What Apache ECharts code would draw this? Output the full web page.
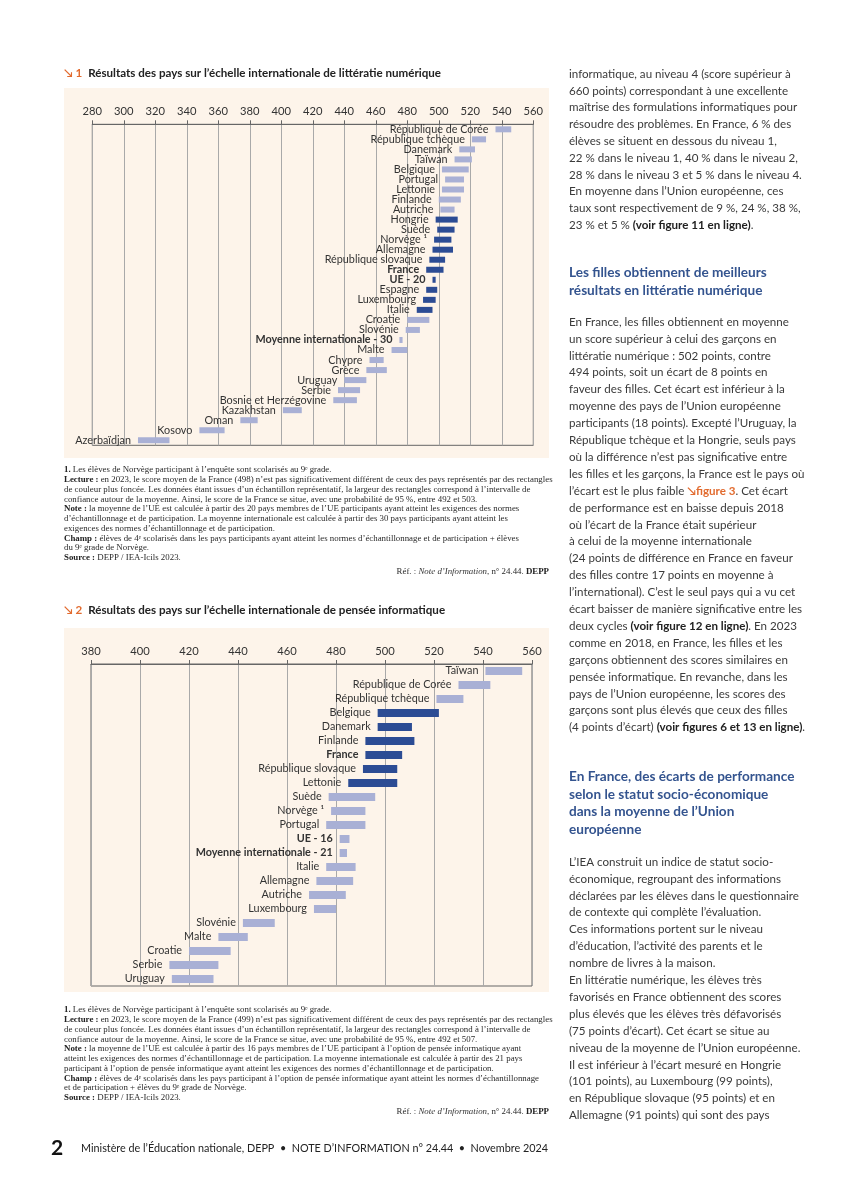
<!DOCTYPE html>
<html><head><meta charset="utf-8">
<script src="https://cdn.jsdelivr.net/npm/echarts@6/dist/echarts.min.js"></script>
<style>html,body{margin:0;padding:0;background:#fff}#c{width:867px;height:1200px}</style>
</head><body><div id="c"></div>
<script>
// ---------- Figure 1 : littératie numérique ----------
const litCountries = ['République de Corée','République tchèque','Danemark','Taïwan','Belgique','Portugal','Lettonie','Finlande','Autriche','Hongrie','Suède','Norvège ¹','Allemagne','République slovaque','France','UE - 20','Espagne','Luxembourg','Italie','Croatie','Slovénie','Moyenne internationale - 30','Malte','Chypre','Grèce','Uruguay','Serbie','Bosnie et Herzégovine','Kazakhstan','Oman','Kosovo','Azerbaïdjan'];
const litLow  = [536,521,513,510,502,504,502,500,501,498,499,497,496,494,492,496,492,490,486,480,479,475,470,456,454,440,436,433,401,374,348,309];
const litHigh = [546,530,523,521,519,516,516,514,510,512,510,508,509,504,503,498,499,498,496,494,488,477,480,465,467,454,450,448,413,385,364,329];
const litDark = [0,0,0,0,0,0,0,0,0,1,1,1,1,1,1,1,1,1,1,0,0,0,0,0,0,0,0,0,0,0,0,0];
const litBold = [0,0,0,0,0,0,0,0,0,0,0,0,0,0,1,1,0,0,0,0,0,1,0,0,0,0,0,0,0,0,0,0];
const litAxis = {min:280, max:560, interval:20};

// ---------- Figure 2 : pensée informatique ----------
const piCountries = ['Taïwan','République de Corée','République tchèque','Belgique','Danemark','Finlande','France','République slovaque','Lettonie','Suède','Norvège ¹','Portugal','UE - 16','Moyenne internationale - 21','Italie','Allemagne','Autriche','Luxembourg','Slovénie','Malte','Croatie','Serbie','Uruguay'];
const piLow  = [541,530,521,497,497,492,492,491,485,477,478,476,481.5,481.5,476,472,469,471,442,432,420,412,413];
const piHigh = [556,543,532,522,511,512,507,505,505,496,492,492,485.5,484.5,488,487,484,480,455,444,437,432,430];
const piDark = [0,0,0,1,1,1,1,1,1,0,0,0,0,0,0,0,0,0,0,0,0,0,0];
const piBold = [0,0,0,0,0,0,1,0,0,0,0,0,1,1,0,0,0,0,0,0,0,0,0];
const piAxis = {min:380, max:560, interval:20};

const SANS = 'Lato, "Noto Sans", sans-serif';
const SERIF = '"Liberation Serif", "DejaVu Serif", serif';
const LIGHT = '#a9b0d5', DARK = '#2c4c94', TXT = '#333333', ORANGE = '#e26b2f', BLUE = '#34548f';

function mkRender(names, barH, fs) {
  return function (params, api) {
    const i = params.dataIndex;
    const p0 = api.coord([api.value(1), i]);
    const p1 = api.coord([api.value(2), i]);
    const dark = api.value(3) === 1, bold = api.value(4) === 1;
    return {type:'group', children:[
      {type:'rect', shape:{x:p0[0], y:p0[1]-barH/2, width:p1[0]-p0[0], height:barH}, style:{fill: dark?DARK:LIGHT}},
      {type:'text', x:p0[0]-7, y:p0[1], style:{text:names[i], align:'right', verticalAlign:'middle',
        fontSize:fs, fontFamily:SANS, fontWeight: bold?'bold':'normal', fill:TXT}}
    ]};
  };
}
function xAx(idx, ax) {
  return {type:'value', gridIndex:idx, position:'top', min:ax.min, max:ax.max, interval:ax.interval,
    axisLine:{show:true, lineStyle:{color:'#666', width:1}},
    axisTick:{show:true, length:4, lineStyle:{color:'#666'}},
    axisLabel:{fontSize:11.2, color:TXT, fontFamily:SANS, margin:7},
    splitLine:{show:true, lineStyle:{color:'#a9a9a9', width:1}}};
}
function yAx(idx, cats) {
  return {type:'category', gridIndex:idx, data:cats, inverse:true, show:false};
}

// ---------- text helpers ----------
function T(x, y, text, opt) {
  opt = opt || {};
  const fs = opt.fontSize || 11.6, ff = opt.fontFamily || SANS;
  return {type:'text', x:x, y:y, z:10, style:Object.assign({text:text, fontSize:11.6, fontFamily:SANS, fill:'#3a3a3a',
    align:'left', verticalAlign:'middle', rich:{
      b:{fontWeight:'bold', fill:'#222', fontSize:fs, fontFamily:ff},
      o:{fontWeight:'bold', fill:ORANGE, fontSize:fs, fontFamily:ff},
      i:{fontStyle:'italic', fill:'#333', fontSize:fs, fontFamily:ff}
    }}, opt)};
}

const notes1 = [
  '{b|1.} Les élèves de Norvège participant à l’enquête sont scolarisés au 9ᵉ grade.',
  '{b|Lecture :} en 2023, le score moyen de la France (498) n’est pas significativement différent de ceux des pays représentés par des rectangles',
  'de couleur plus foncée. Les données étant issues d’un échantillon représentatif, la largeur des rectangles correspond à l’intervalle de',
  'confiance autour de la moyenne. Ainsi, le score de la France se situe, avec une probabilité de 95 %, entre 492 et 503.',
  '{b|Note :} la moyenne de l’UE est calculée à partir des 20 pays membres de l’UE participants ayant atteint les exigences des normes',
  'd’échantillonnage et de participation. La moyenne internationale est calculée à partir des 30 pays participants ayant atteint les',
  'exigences des normes d’échantillonnage et de participation.',
  '{b|Champ :} élèves de 4ᵉ scolarisés dans les pays participants ayant atteint les normes d’échantillonnage et de participation + élèves',
  'du 9ᵉ grade de Norvège.',
  '{b|Source :} DEPP / IEA-Icils 2023.'
];
const notes2 = [
  '{b|1.} Les élèves de Norvège participant à l’enquête sont scolarisés au 9ᵉ grade.',
  '{b|Lecture :} en 2023, le score moyen de la France (499) n’est pas significativement différent de ceux des pays représentés par des rectangles',
  'de couleur plus foncée. Les données étant issues d’un échantillon représentatif, la largeur des rectangles correspond à l’intervalle de',
  'confiance autour de la moyenne. Ainsi, le score de la France se situe, avec une probabilité de 95 %, entre 492 et 507.',
  '{b|Note :} la moyenne de l’UE est calculée à partir des 16 pays membres de l’UE participant à l’option de pensée informatique ayant',
  'atteint les exigences des normes d’échantillonnage et de participation. La moyenne internationale est calculée à partir des 21 pays',
  'participant à l’option de pensée informatique ayant atteint les exigences des normes d’échantillonnage et de participation.',
  '{b|Champ :} élèves de 4ᵉ scolarisés dans les pays participant à l’option de pensée informatique ayant atteint les normes d’échantillonnage',
  'et de participation + élèves du 9ᵉ grade de Norvège.',
  '{b|Source :} DEPP / IEA-Icils 2023.'
];
const col1 = [
  'informatique, au niveau 4 (score supérieur à',
  '660 points) correspondant à une excellente',
  'maîtrise des formulations informatiques pour',
  'résoudre des problèmes. En France, 6 % des',
  'élèves se situent en dessous du niveau 1,',
  '22 % dans le niveau 1, 40 % dans le niveau 2,',
  '28 % dans le niveau 3 et 5 % dans le niveau 4.',
  'En moyenne dans l’Union européenne, ces',
  'taux sont respectivement de 9 %, 24 %, 38 %,',
  '23 % et 5 % {b|(voir figure 11 en ligne)}.'
];
const head1 = ['Les filles obtiennent de meilleurs','résultats en littératie numérique'];
const col2 = [
  'En France, les filles obtiennent en moyenne',
  'un score supérieur à celui des garçons en',
  'littératie numérique : 502 points, contre',
  '494 points, soit un écart de 8 points en',
  'faveur des filles. Cet écart est inférieur à la',
  'moyenne des pays de l’Union européenne',
  'participants (18 points). Excepté l’Uruguay, la',
  'République tchèque et la Hongrie, seuls pays',
  'où la différence n’est pas significative entre',
  'les filles et les garçons, la France est le pays où',
  'l’écart est le plus faible {o|↘figure 3}. Cet écart',
  'de performance est en baisse depuis 2018',
  'où l’écart de la France était supérieur',
  'à celui de la moyenne internationale',
  '(24 points de différence en France en faveur',
  'des filles contre 17 points en moyenne à',
  'l’international). C’est le seul pays qui a vu cet',
  'écart baisser de manière significative entre les',
  'deux cycles {b|(voir figure 12 en ligne)}. En 2023',
  'comme en 2018, en France, les filles et les',
  'garçons obtiennent des scores similaires en',
  'pensée informatique. En revanche, dans les',
  'pays de l’Union européenne, les scores des',
  'garçons sont plus élevés que ceux des filles',
  '(4 points d’écart) {b|(voir figures 6 et 13 en ligne)}.'
];
const head2 = ['En France, des écarts de performance','selon le statut socio-économique','dans la moyenne de l’Union','européenne'];
const col3 = [
  'L’IEA construit un indice de statut socio-',
  'économique, regroupant des informations',
  'déclarées par les élèves dans le questionnaire',
  'de contexte qui complète l’évaluation.',
  'Ces informations portent sur le niveau',
  'd’éducation, l’activité des parents et le',
  'nombre de livres à la maison.',
  'En littératie numérique, les élèves très',
  'favorisés en France obtiennent des scores',
  'plus élevés que les élèves très défavorisés',
  '(75 points d’écart). Cet écart se situe au',
  'niveau de la moyenne de l’Union européenne.',
  'Il est inférieur à l’écart mesuré en Hongrie',
  '(101 points), au Luxembourg (99 points),',
  'en République slovaque (95 points) et en',
  'Allemagne (91 points) qui sont des pays'
];

const graphics = [];
// panels
graphics.push({type:'rect', z:-5, shape:{x:64, y:88, width:485, height:370}, style:{fill:'#fdf4ea'}});
graphics.push({type:'rect', z:-5, shape:{x:64, y:628, width:485, height:364}, style:{fill:'#fdf4ea'}});
// titles
graphics.push(T(64, 73, '{o|↘ 1}  {b|Résultats des pays sur l’échelle internationale de littératie numérique}', {fontSize:11.6}));
graphics.push(T(64, 610, '{o|↘ 2}  {b|Résultats des pays sur l’échelle internationale de pensée informatique}', {fontSize:11.6}));
// notes
const noteOpt = {fontSize:8.85, fontFamily:SERIF, fill:'#2a2a2a'};
notes1.forEach((l,k)=>graphics.push(T(64, 470 + k*9.75, l, noteOpt)));
notes2.forEach((l,k)=>graphics.push(T(64, 1010 + k*9.75, l, noteOpt)));
graphics.push(T(549, 572, 'Réf. : {i|Note d’Information}, n° 24.44. {b|DEPP}', Object.assign({align:'right'}, noteOpt)));
graphics.push(T(549, 1112, 'Réf. : {i|Note d’Information}, n° 24.44. {b|DEPP}', Object.assign({align:'right'}, noteOpt)));
// right column
col1.forEach((l,k)=>graphics.push(T(569, 74 + k*16.8, l)));
head1.forEach((l,k)=>graphics.push(T(569, 273 + k*18, l, {fontSize:13.6, fontWeight:'bold', fill:BLUE})));
col2.forEach((l,k)=>graphics.push(T(569, 322 + k*16.9, l)));
head2.forEach((l,k)=>graphics.push(T(569, 777 + k*17.5, l, {fontSize:13.6, fontWeight:'bold', fill:BLUE})));
col3.forEach((l,k)=>graphics.push(T(569, 862 + k*16.9, l)));
// footer
graphics.push(T(51, 1148, '2', {fontSize:21, fontWeight:'bold', fill:'#111'}));
graphics.push(T(81, 1149, 'Ministère de l’Éducation nationale, DEPP  •  NOTE D’INFORMATION n° 24.44  •  Novembre 2024', {fontSize:10.8, fill:'#222'}));

const chart = echarts.init(document.getElementById('c'), null, {renderer:'canvas'});
chart.setOption({
  backgroundColor:'#ffffff',
  animation:false,
  grid:[
    {left:92.3, top:124.3, width:441, height:321, show:true, borderColor:'#666', borderWidth:1, backgroundColor:'transparent', containLabel:false},
    {left:91, top:664, width:441, height:322, show:true, borderColor:'#666', borderWidth:1, backgroundColor:'transparent', containLabel:false}
  ],
  xAxis:[xAx(0, litAxis), xAx(1, piAxis)],
  yAxis:[yAx(0, litCountries), yAx(1, piCountries)],
  series:[
    {type:'custom', xAxisIndex:0, yAxisIndex:0, clip:false, renderItem:mkRender(litCountries, 6, 10.8),
      encode:{x:[1,2], y:0},
      data:litCountries.map((c,i)=>[i, litLow[i], litHigh[i], litDark[i], litBold[i]])},
    {type:'custom', xAxisIndex:1, yAxisIndex:1, clip:false, renderItem:mkRender(piCountries, 8, 10.8),
      encode:{x:[1,2], y:0},
      data:piCountries.map((c,i)=>[i, piLow[i], piHigh[i], piDark[i], piBold[i]])}
  ],
  graphic:{elements:graphics}
});
</script></body></html>
